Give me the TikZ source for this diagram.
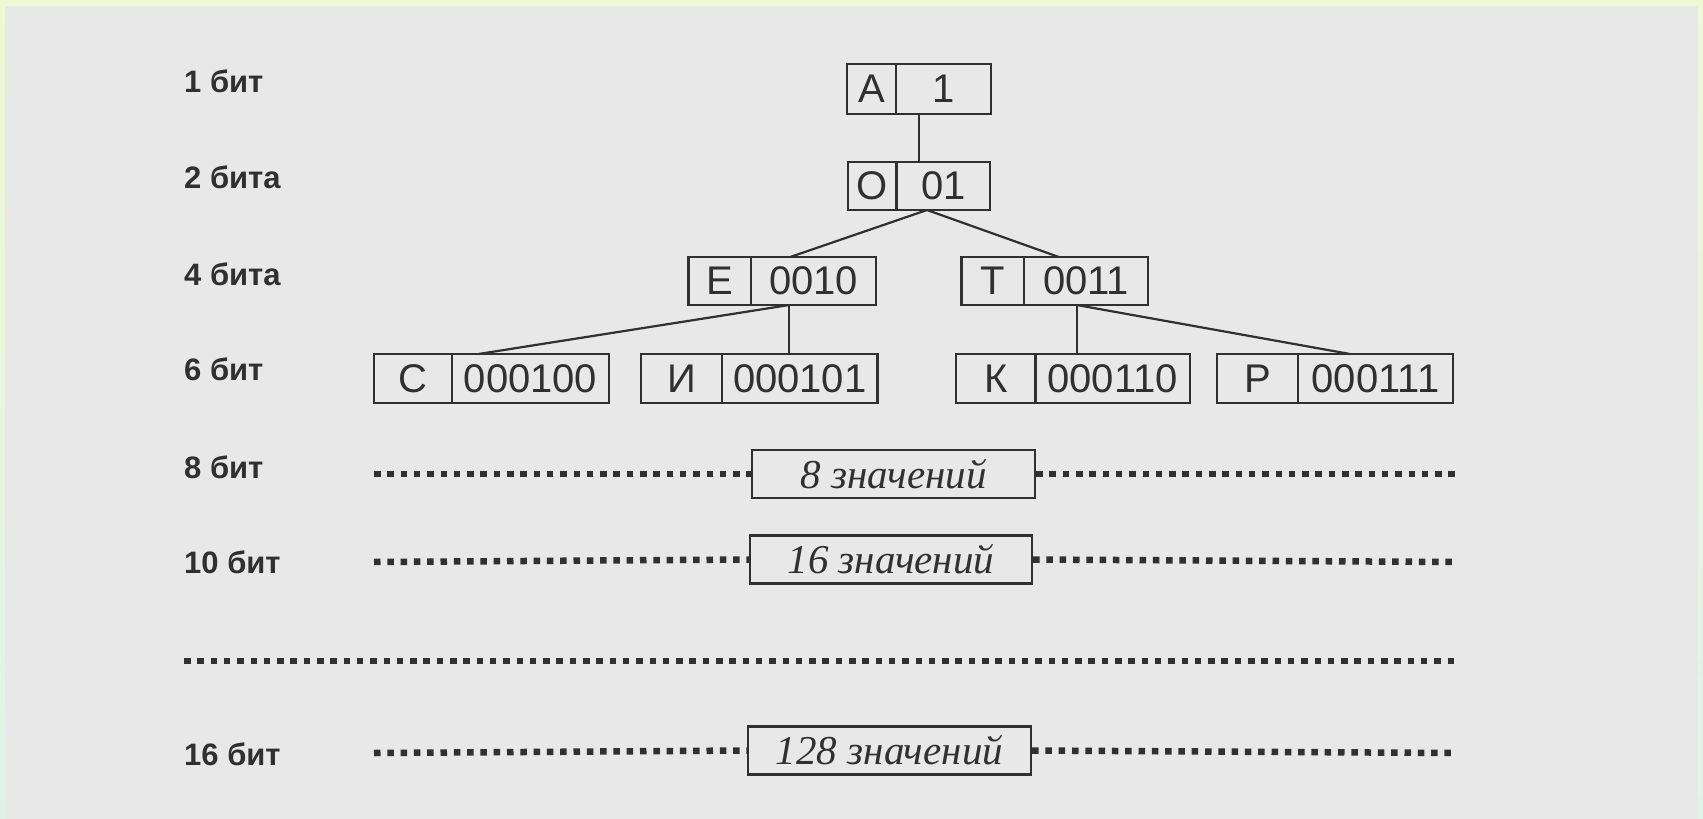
\documentclass[tikz,border=0pt]{standalone}
\usepackage{fontspec}
\setmainfont{Liberation Sans}
\newfontfamily\valfont{Liberation Serif}
\usetikzlibrary{calc}

\definecolor{paper}{RGB}{232,232,232}
\definecolor{ink}{RGB}{48,48,48}
\definecolor{rimtop}{RGB}{240,248,212}
\definecolor{rimbot}{RGB}{222,243,232}

\tikzset{
  cell/.style={draw=ink, line width=2.2pt, inner sep=0pt, text=ink,
    font=\fontsize{40}{40}\selectfont},
  whole/.style={inner sep=0pt, outer sep=0pt},
  levellabel/.style={anchor=base west, inner sep=0pt, text=ink,
    font=\fontsize{31}{31}\selectfont\bfseries},
  valbox/.style={draw=ink, line width=2.2pt, inner sep=0pt, text=ink,
    minimum height=48, font=\valfont\itshape\fontsize{41}{41}\selectfont},
  edge/.style={draw=ink, line width=2.2pt},
  dots/.style={draw=ink, line width=6.5pt, dash pattern=on 6.5pt off 6.8pt},
}

% letter cell + code cell, plus an invisible node covering the whole box
% #1 name, #2 left x, #3 divider x, #4 right x, #5 centre y, #6 height, #7 letter, #8 code
\newcommand\codebox[8]{%
  \node[cell, minimum width={#3-#2}, minimum height=#6] (#1l) at ({(#2+#3)/2},#5) {#7};
  \node[cell, minimum width={#4-#3}, minimum height=#6] (#1r) at ({(#3+#4)/2},#5) {#8};
  \node[whole, minimum width={#4-#2}, minimum height=#6] (#1) at ({(#2+#4)/2},#5) {};
}

\begin{document}
\begin{tikzpicture}[x=1pt, y=-1pt]
  \useasboundingbox (0,0) rectangle (1703,819);
  \fill[top color=rimtop, bottom color=rimbot] (0,0) rectangle (1703,819);
  \fill[paper] (5,6) rectangle (1698,819);

  % level labels
  \node[levellabel] (b1)  at (184,92)  {1 бит};
  \node[levellabel] (b2)  at (184,188) {2 бита};
  \node[levellabel] (b4)  at (184,285) {4 бита};
  \node[levellabel] (b6)  at (184,380) {6 бит};
  \node[levellabel] (b8)  at (184,478) {8 бит};
  \node[levellabel] (b10) at (184,573) {10 бит};
  \node[levellabel] (b16) at (184,765) {16 бит};

  % code tree
  \codebox{A}{847}{896}{991}{89}{50}{А}{1}
  \codebox{O}{848}{896.5}{990}{186}{48}{О}{01}
  \codebox{E}{688.5}{751}{876}{281}{48}{Е}{0010}
  \codebox{T}{961.5}{1024}{1148}{281}{48}{Т}{0011}
  \codebox{C}{374}{452}{609}{378.5}{49}{С}{000100}
  \codebox{I}{641}{722}{877.5}{378.5}{49}{И}{000101}
  \codebox{K}{956}{1035.5}{1190}{378.5}{49}{К}{000110}
  \codebox{P}{1217}{1298}{1453}{378.5}{49}{Р}{000111}

  \draw[edge] (A.south) -- (O.north);
  \coordinate (ob) at ([xshift=8pt]O.south);
  \draw[edge] (ob) -- ([xshift=8pt]E.north);
  \draw[edge] (ob) -- ([xshift=4pt]T.north);
  \coordinate (eb) at ([xshift=7pt]E.south);
  \draw[edge] (eb) -- ([xshift=-13pt]C.north);
  \draw[edge] (eb) -- (eb |- I.north);
  \coordinate (tb) at ([xshift=22pt]T.south);
  \draw[edge] (tb) -- (tb |- K.north);
  \draw[edge] (tb) -- ([xshift=15pt]P.north);

  % value counts with dotted leaders
  \node[valbox, minimum width=283] (v8)   at (893.5,474)   {8 значений};
  \node[valbox, minimum width=282] (v16)  at (891,559.5)   {16 значений};
  \node[valbox, minimum width=283] (v128) at (889.5,750.5) {128 значений};

  \coordinate (l8)  at (374,474);   \coordinate (r8)  at (1455,474);
  \coordinate (l16) at (374,562);   \coordinate (r16) at (1455,562);
  \coordinate (l128) at (374,753);  \coordinate (r128) at (1455,753);
  \coordinate (m1) at (184,661);    \coordinate (m2) at (1455,661);

  \draw[dots] (l8) -- (v8.west);     \draw[dots] (v8.east) -- (r8);
  \draw[dots] (l16) -- (v16.west);   \draw[dots] (v16.east) -- (r16);
  \draw[dots] (m1) -- (m2);
  \draw[dots] (l128) -- (v128.west); \draw[dots] (v128.east) -- (r128);
\end{tikzpicture}
\end{document}
